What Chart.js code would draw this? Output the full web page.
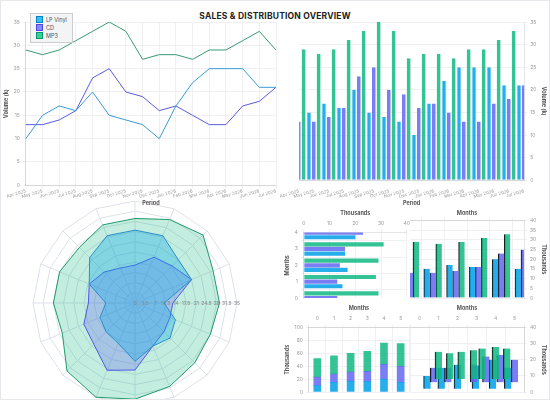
<!DOCTYPE html>
<html><head><meta charset="utf-8">
<script src="https://cdn.jsdelivr.net/npm/chart.js@4"></script>
<style>
body{margin:0;width:550px;height:400px;background:#fff;position:relative;overflow:hidden;font-family:Inter,sans-serif}
canvas{position:absolute}
#frame{position:absolute;left:0;top:0;width:548px;height:398px;border:1px solid #e5e7eb;z-index:5;pointer-events:none}
#title{position:absolute;top:11px;left:0;width:550px;text-align:center;font:bold 8.5px Inter;color:#222;letter-spacing:0.2px}
#leg{position:absolute;left:30px;top:13px;background:#f3f4f6;border:1px solid #ccc;padding:2px 5px;font:5.5px Inter;color:#555;line-height:7px}
#leg span{display:inline-block;width:5px;height:5px;margin-right:3px;vertical-align:-1px;border:1px solid}
</style></head><body>
<div id="frame"></div>
<div id="title">SALES &amp; DISTRIBUTION OVERVIEW</div>
<canvas id="c3" width="270" height="204" style="left:0;top:201px"></canvas>
<canvas id="c1" width="282" height="200" style="left:0;top:8px"></canvas>
<canvas id="c2" width="268" height="200" style="left:280px;top:8px"></canvas>
<canvas id="c4" width="130" height="97" style="left:283px;top:207px"></canvas>
<canvas id="c5" width="140" height="97" style="left:408px;top:207px"></canvas>
<canvas id="c6" width="130" height="96" style="left:283px;top:302px"></canvas>
<canvas id="c7" width="140" height="96" style="left:408px;top:302px"></canvas>
<div id="leg"><div><span style="background:#38bdf8;border-color:#0284c7"></span>LP Vinyl</div><div><span style="background:#818cf8;border-color:#4f46e5"></span>CD</div><div><span style="background:#34d399;border-color:#059669"></span>MP3</div></div>
<script>
const periods=["Apr 2025","May 2025","Jun 2025","Jul 2025","Aug 2025","Sep 2025","Oct 2025","Nov 2025","Dec 2025","Jan 2026","Feb 2026","Mar 2026","Apr 2026","May 2026","Jun 2026","Jul 2026"];
const lpVinyl=[10,15,17,16,20,15,14,13,10,17,22,25,25,25,21,21];
const cd=[13,13,14,16,23,25,20,19,16,17,15,13,13,17,18,21];
const mp3=[29,28,29,31,33,35,33,27,28,28,27,29,29,31,33,29];
const floatX={lp:[0.4,1.15,2.0,2.95,3.85,4.65],cd:[0.75,1.5,2.85,3.5,4.25,5.0],mp3:[1.0,1.6,2.2,2.85,3.3,4.0,4.6]};
const floatLo={lp:2,cd:6,mp3:8};
const floatHi={lp:[10,15,17,16.5,20,15],cd:[15,15,17,22,23,20],mp3:[25,24,25,26,27,28,27]};
const F={lp:'rgba(14,165,233,0.9)',cd:'rgba(99,102,241,0.85)',mp3:'rgba(16,185,129,0.85)'};
Chart.defaults.font.family='Inter';Chart.defaults.font.size=5;Chart.defaults.color='#999';
Chart.defaults.animation=false;Chart.defaults.responsive=false;
Chart.defaults.plugins.legend.display=false;Chart.defaults.plugins.tooltip.enabled=false;
const grid={color:'#f0f0f3',tickLength:3};
const ttl=(t)=>({display:true,text:t,color:'#555',font:{size:5.5,weight:'bold'},padding:1});
const xPeriod={offset:false,grid:grid,ticks:{maxRotation:16,minRotation:16,autoSkip:false,font:{size:4.5},padding:0},title:ttl('Period')};
new Chart(c1,{type:'line',data:{labels:periods,datasets:[
 {data:lpVinyl,borderColor:'#3b9bd6',borderWidth:1,pointRadius:0,tension:0},
 {data:cd,borderColor:'#5b5be0',borderWidth:1,pointRadius:0},
 {data:mp3,borderColor:'#3a9a72',borderWidth:1,pointRadius:0}]},
 options:{layout:{padding:{top:14,right:6,left:2}},scales:{x:xPeriod,y:{min:0,max:35,ticks:{stepSize:5},grid:grid,title:ttl('Volume (k)')}}}});
new Chart(c2,{type:'bar',data:{labels:periods,datasets:[
 {data:lpVinyl,backgroundColor:F.lp,borderColor:'#bde6f8',borderWidth:{right:1}},
 {data:cd,backgroundColor:F.cd,borderColor:'#d4d4fb',borderWidth:{right:1}},
 {data:mp3,backgroundColor:F.mp3,borderColor:'#b9ecd8',borderWidth:{right:1}}]},
 options:{layout:{padding:{top:14,left:0}},datasets:{bar:{barPercentage:0.92,categoryPercentage:0.95}},
 scales:{x:{...xPeriod,grid:{display:false}},y:{position:'right',min:0,max:35,ticks:{stepSize:5},grid:grid,title:ttl('Volume (k)')}}}});
const radTicks={id:'radTicks',afterDraw(ch){const r=ch.scales.r,ctx=ch.ctx;ctx.save();ctx.fillStyle='#888';ctx.font='5px Inter';ctx.textAlign='center';ctx.textBaseline='middle';
 r.ticks.forEach(t=>{const d=r.getDistanceFromCenterForValue(t.value);ctx.fillText(t.label,r.xCenter+d,r.yCenter);});ctx.restore();}};
new Chart(c3,{type:'radar',plugins:[radTicks],data:{labels:periods,datasets:[
 {data:lpVinyl,borderColor:'#2a8fc7',backgroundColor:'rgba(14,165,233,0.35)',borderWidth:1,pointRadius:0},
 {data:cd,borderColor:'#4f5be0',backgroundColor:'rgba(99,102,241,0.3)',borderWidth:1,pointRadius:0},
 {data:mp3,borderColor:'#20996a',backgroundColor:'rgba(16,185,129,0.25)',borderWidth:1,pointRadius:0}]},
 options:{layout:{padding:0},scales:{r:{min:0,max:35,startAngle:90,ticks:{stepSize:3.5,display:false},grid:{color:'#dde1ea'},angleLines:{color:'#dde1ea'},pointLabels:{display:false}}}}});
const idx=[0,1,2,3,4,5];
const pts=(arr,n)=>idx.slice(0,n).map(i=>({x:i,y:arr[i]}));
new Chart(c4,{type:'bar',data:{datasets:[
 {data:idx.slice(0,5).map(i=>({y:i,x:mp3[i]})),backgroundColor:F.mp3},
 {data:idx.slice(0,5).map(i=>({y:i,x:cd[i]})),backgroundColor:F.cd},
 {data:idx.slice(0,5).map(i=>({y:i,x:lpVinyl[i]})),backgroundColor:F.lp}]},
 options:{indexAxis:'y',layout:{padding:{right:4,top:2}},datasets:{bar:{barPercentage:0.9,categoryPercentage:0.85}},
 scales:{x:{type:'linear',position:'top',min:0,max:40,ticks:{stepSize:10},grid:grid,title:ttl('Thousands')},
 y:{type:'linear',min:0,max:4,offset:false,ticks:{stepSize:1},grid:grid,title:ttl('Months')}}}});
new Chart(c5,{type:'bar',data:{datasets:[
 {data:pts(lpVinyl,6),backgroundColor:F.lp,borderColor:'#111',borderWidth:{left:1}},
 {data:pts(cd,6),backgroundColor:F.cd,borderColor:'#111',borderWidth:{left:1}},
 {data:pts(mp3,6),backgroundColor:F.mp3,borderColor:'#111',borderWidth:{left:1}}]},
 options:{layout:{padding:{left:2,top:2}},datasets:{bar:{barThickness:6}},
 scales:{x:{type:'linear',position:'top',min:0,max:5,offset:false,ticks:{display:false,stepSize:1},grid:grid,title:ttl('Months')},
 y:{position:'right',min:0,max:40,ticks:{stepSize:5},grid:grid,title:ttl('Thousands')}}}});
new Chart(c6,{type:'bar',data:{datasets:[
 {data:pts(lpVinyl,6),backgroundColor:F.lp},
 {data:pts(cd,6),backgroundColor:F.cd},
 {data:pts(mp3,6),backgroundColor:F.mp3}]},
 options:{layout:{padding:{right:4,top:2}},datasets:{bar:{barThickness:7}},
 scales:{x:{type:'linear',position:'top',stacked:true,min:-0.5,max:5.5,offset:false,ticks:{stepSize:1},afterBuildTicks:a=>{a.ticks=[0,1,2,3,4,5].map(v=>({value:v}))},grid:grid,title:ttl('Months')},
 y:{stacked:true,min:0,max:100,ticks:{stepSize:20},grid:grid,title:ttl('Thousands')}}}});
const fl=(k)=>floatX[k].map((x,i)=>({x:x,y:[floatLo[k],floatHi[k][i]]}));
new Chart(c7,{type:'bar',data:{datasets:[
 {data:fl('mp3'),backgroundColor:F.mp3,borderColor:'#111',borderWidth:{left:1},grouped:false},
 {data:fl('cd'),backgroundColor:F.cd,borderColor:'#111',borderWidth:{left:1},grouped:false},
 {data:fl('lp'),backgroundColor:F.lp,borderColor:'#111',borderWidth:{left:1},grouped:false}]},
 options:{layout:{padding:{left:2,top:2}},datasets:{bar:{barThickness:7}},
 scales:{x:{type:'linear',position:'top',min:0,max:5,ticks:{stepSize:1},grid:grid,title:ttl('Months')},
 y:{position:'right',min:0,max:40,ticks:{stepSize:5},grid:grid,title:ttl('Thousands')}}}});
</script></body></html>
